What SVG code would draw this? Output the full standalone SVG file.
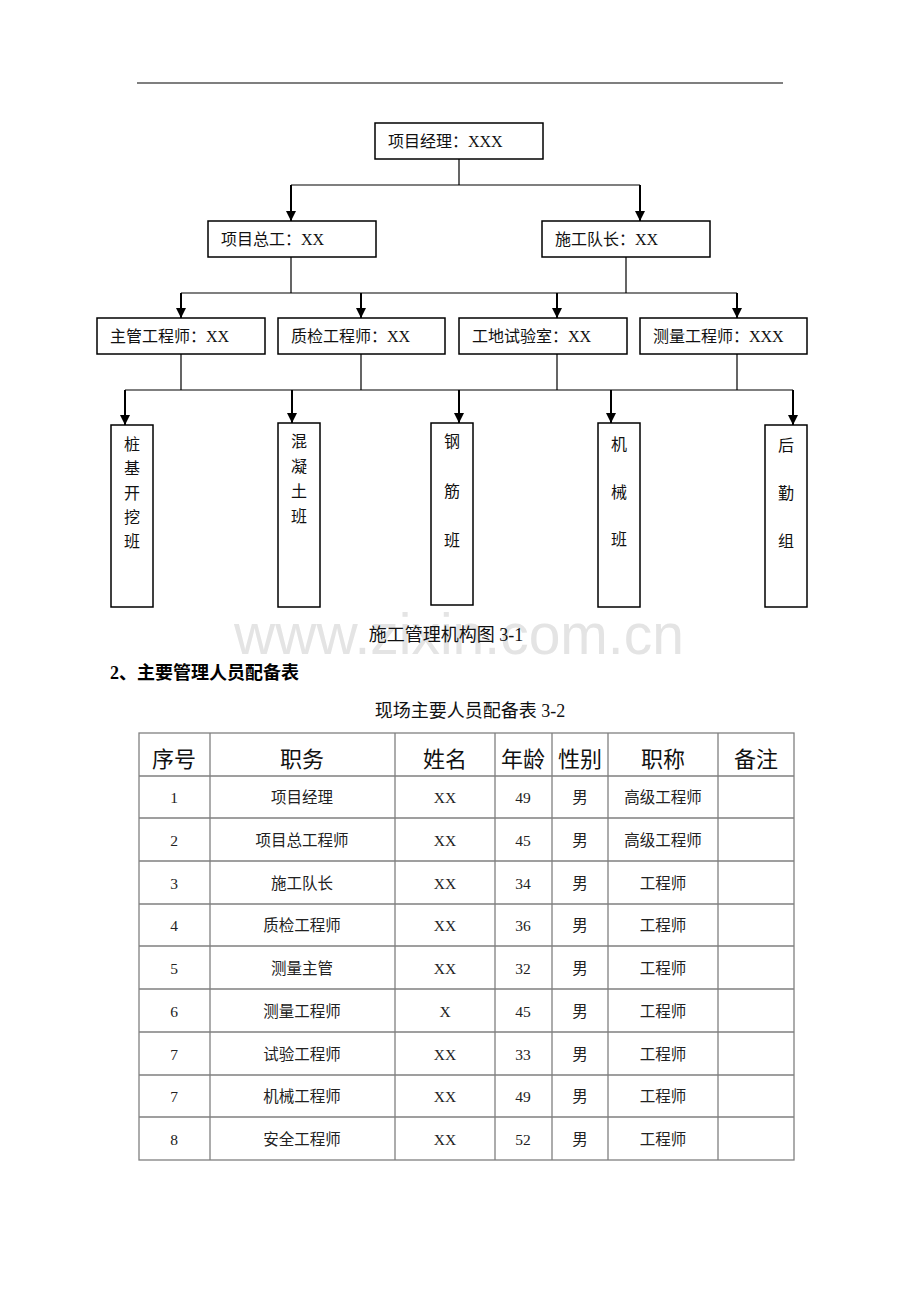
<svg xmlns="http://www.w3.org/2000/svg" width="920" height="1302" viewBox="0 0 920 1302">
<style>
.bx{fill:#fff;stroke:#000;stroke-width:1.5}
.ln{stroke:#000;stroke-width:1.2;fill:none}
.ar{stroke:#000;stroke-width:2;fill:none}
.t{font-family:"Liberation Serif","Noto Sans CJK SC",serif;font-size:16px;fill:#111}
.v{font-family:"Liberation Serif","Noto Sans CJK SC",serif;font-size:16px;fill:#111;text-anchor:middle}
.tb{stroke:#808080;stroke-width:1.3;fill:none}
.h{font-family:"Liberation Serif","Noto Sans CJK SC",serif;font-size:22px;fill:#111;text-anchor:middle}
.c{font-family:"Liberation Serif","Noto Sans CJK SC",serif;font-size:15.5px;fill:#222;text-anchor:middle}
</style>
<defs>
<marker id="arr" markerUnits="userSpaceOnUse" markerWidth="10" markerHeight="12" refX="10" refY="5" orient="auto">
<path d="M0,0 L10,5 L0,10 z" fill="#000"/>
</marker>
</defs>
<rect width="920" height="1302" fill="#fff"/>
<line x1="137" y1="83" x2="783" y2="83" stroke="#000" stroke-width="1.2"/>
<text x="459" y="654" font-family="'Liberation Sans',Arial,sans-serif" font-size="57" fill="#e4e4e4" text-anchor="middle">www.zixin.com.cn</text>

<g id="connectors">
<path class="ln" d="M459,159 V185 M291,185 H640 M291,257 V293 M626,257 V293 M181,293 H737 M181,354 V390 M361,354 V390 M557,354 V390 M737,354 V390 M125,390 H793"/>
<line class="ar" x1="291" y1="185" x2="291" y2="221" marker-end="url(#arr)"/>
<line class="ar" x1="640" y1="185" x2="640" y2="221" marker-end="url(#arr)"/>
<line class="ar" x1="181" y1="293" x2="181" y2="318" marker-end="url(#arr)"/>
<line class="ar" x1="361" y1="293" x2="361" y2="318" marker-end="url(#arr)"/>
<line class="ar" x1="557" y1="293" x2="557" y2="318" marker-end="url(#arr)"/>
<line class="ar" x1="737" y1="293" x2="737" y2="318" marker-end="url(#arr)"/>
<line class="ar" x1="125" y1="390" x2="125" y2="425" marker-end="url(#arr)"/>
<line class="ar" x1="292" y1="390" x2="292" y2="423" marker-end="url(#arr)"/>
<line class="ar" x1="459" y1="390" x2="459" y2="423" marker-end="url(#arr)"/>
<line class="ar" x1="611" y1="390" x2="611" y2="423" marker-end="url(#arr)"/>
<line class="ar" x1="793" y1="390" x2="793" y2="425" marker-end="url(#arr)"/>
</g>

<g id="n-pm"><rect class="bx" x="375" y="123" width="168" height="36"/><text class="t" x="388" y="147">项目经理：XXX</text></g>
<g id="n-ce"><rect class="bx" x="208" y="221" width="168" height="36"/><text class="t" x="221" y="245">项目总工：XX</text></g>
<g id="n-cl"><rect class="bx" x="542" y="221" width="168" height="36"/><text class="t" x="555" y="245">施工队长：XX</text></g>
<g id="n-zg"><rect class="bx" x="97" y="318" width="168" height="36"/><text class="t" x="110" y="342">主管工程师：XX</text></g>
<g id="n-zj"><rect class="bx" x="278" y="318" width="167" height="36"/><text class="t" x="291" y="342">质检工程师：XX</text></g>
<g id="n-sy"><rect class="bx" x="459" y="318" width="168" height="36"/><text class="t" x="472" y="342">工地试验室：XX</text></g>
<g id="n-cl2"><rect class="bx" x="640" y="318" width="167" height="36"/><text class="t" x="653" y="342">测量工程师：XXX</text></g>

<g id="n-zhuang"><rect class="bx" x="111" y="425" width="42" height="182"/>
<text class="v" x="132" y="450">桩</text><text class="v" x="132" y="474">基</text><text class="v" x="132" y="499">开</text><text class="v" x="132" y="523">挖</text><text class="v" x="132" y="547">班</text></g>
<g id="n-hun"><rect class="bx" x="278" y="423" width="42" height="184"/>
<text class="v" x="299" y="447">混</text><text class="v" x="299" y="472">凝</text><text class="v" x="299" y="497">土</text><text class="v" x="299" y="522">班</text></g>
<g id="n-gang"><rect class="bx" x="431" y="423" width="42" height="182"/>
<text class="v" x="452" y="447">钢</text><text class="v" x="452" y="497">筋</text><text class="v" x="452" y="546">班</text></g>
<g id="n-ji"><rect class="bx" x="598" y="423" width="42" height="184"/>
<text class="v" x="619" y="450">机</text><text class="v" x="619" y="498">械</text><text class="v" x="619" y="545">班</text></g>
<g id="n-hou"><rect class="bx" x="765" y="425" width="42" height="182"/>
<text class="v" x="786" y="451">后</text><text class="v" x="786" y="499">勤</text><text class="v" x="786" y="547">组</text></g>

<text x="446" y="641" font-family="'Liberation Serif','Noto Sans CJK SC',serif" font-size="18" fill="#111" text-anchor="middle">施工管理机构图 3-1</text>
<text x="110" y="679" font-family="'Liberation Serif','Noto Sans CJK SC',serif" font-size="18" font-weight="bold" fill="#000">2、主要管理人员配备表</text>
<text x="470" y="717" font-family="'Liberation Serif','Noto Sans CJK SC',serif" font-size="18" fill="#111" text-anchor="middle">现场主要人员配备表 3-2</text>

<g id="table">
<rect class="tb" x="139" y="733" width="655" height="427"/>
<path class="tb" d="M139,776 H794 M139,818 H794 M139,861 H794 M139,904 H794 M139,946 H794 M139,989 H794 M139,1032 H794 M139,1075 H794 M139,1117 H794 M210,733 V1160 M395,733 V1160 M495,733 V1160 M552,733 V1160 M608,733 V1160 M718,733 V1160"/>
<text class="h" x="174" y="767">序号</text><text class="h" x="302" y="767">职务</text><text class="h" x="445" y="767">姓名</text><text class="h" x="523" y="767">年龄</text><text class="h" x="580" y="767">性别</text><text class="h" x="663" y="767">职称</text><text class="h" x="756" y="767">备注</text>
<g class="row"><text class="c" x="174" y="803">1</text><text class="c" x="302" y="803">项目经理</text><text class="c" x="445" y="803">XX</text><text class="c" x="523" y="803">49</text><text class="c" x="580" y="803">男</text><text class="c" x="663" y="803">高级工程师</text></g>
<g class="row"><text class="c" x="174" y="846">2</text><text class="c" x="302" y="846">项目总工程师</text><text class="c" x="445" y="846">XX</text><text class="c" x="523" y="846">45</text><text class="c" x="580" y="846">男</text><text class="c" x="663" y="846">高级工程师</text></g>
<g class="row"><text class="c" x="174" y="889">3</text><text class="c" x="302" y="889">施工队长</text><text class="c" x="445" y="889">XX</text><text class="c" x="523" y="889">34</text><text class="c" x="580" y="889">男</text><text class="c" x="663" y="889">工程师</text></g>
<g class="row"><text class="c" x="174" y="931">4</text><text class="c" x="302" y="931">质检工程师</text><text class="c" x="445" y="931" font-size="16" fill="#000">XX</text><text class="c" x="523" y="931">36</text><text class="c" x="580" y="931">男</text><text class="c" x="663" y="931">工程师</text></g>
<g class="row"><text class="c" x="174" y="974">5</text><text class="c" x="302" y="974">测量主管</text><text class="c" x="445" y="974" font-size="16" fill="#000">XX</text><text class="c" x="523" y="974">32</text><text class="c" x="580" y="974">男</text><text class="c" x="663" y="974">工程师</text></g>
<g class="row"><text class="c" x="174" y="1017">6</text><text class="c" x="302" y="1017">测量工程师</text><text class="c" x="445" y="1017">X</text><text class="c" x="523" y="1017">45</text><text class="c" x="580" y="1017">男</text><text class="c" x="663" y="1017">工程师</text></g>
<g class="row"><text class="c" x="174" y="1060">7</text><text class="c" x="302" y="1060">试验工程师</text><text class="c" x="445" y="1060">XX</text><text class="c" x="523" y="1060">33</text><text class="c" x="580" y="1060">男</text><text class="c" x="663" y="1060">工程师</text></g>
<g class="row"><text class="c" x="174" y="1102">7</text><text class="c" x="302" y="1102">机械工程师</text><text class="c" x="445" y="1102">XX</text><text class="c" x="523" y="1102">49</text><text class="c" x="580" y="1102">男</text><text class="c" x="663" y="1102">工程师</text></g>
<g class="row"><text class="c" x="174" y="1145">8</text><text class="c" x="302" y="1145">安全工程师</text><text class="c" x="445" y="1145">XX</text><text class="c" x="523" y="1145">52</text><text class="c" x="580" y="1145">男</text><text class="c" x="663" y="1145">工程师</text></g>
</g>
</svg>
